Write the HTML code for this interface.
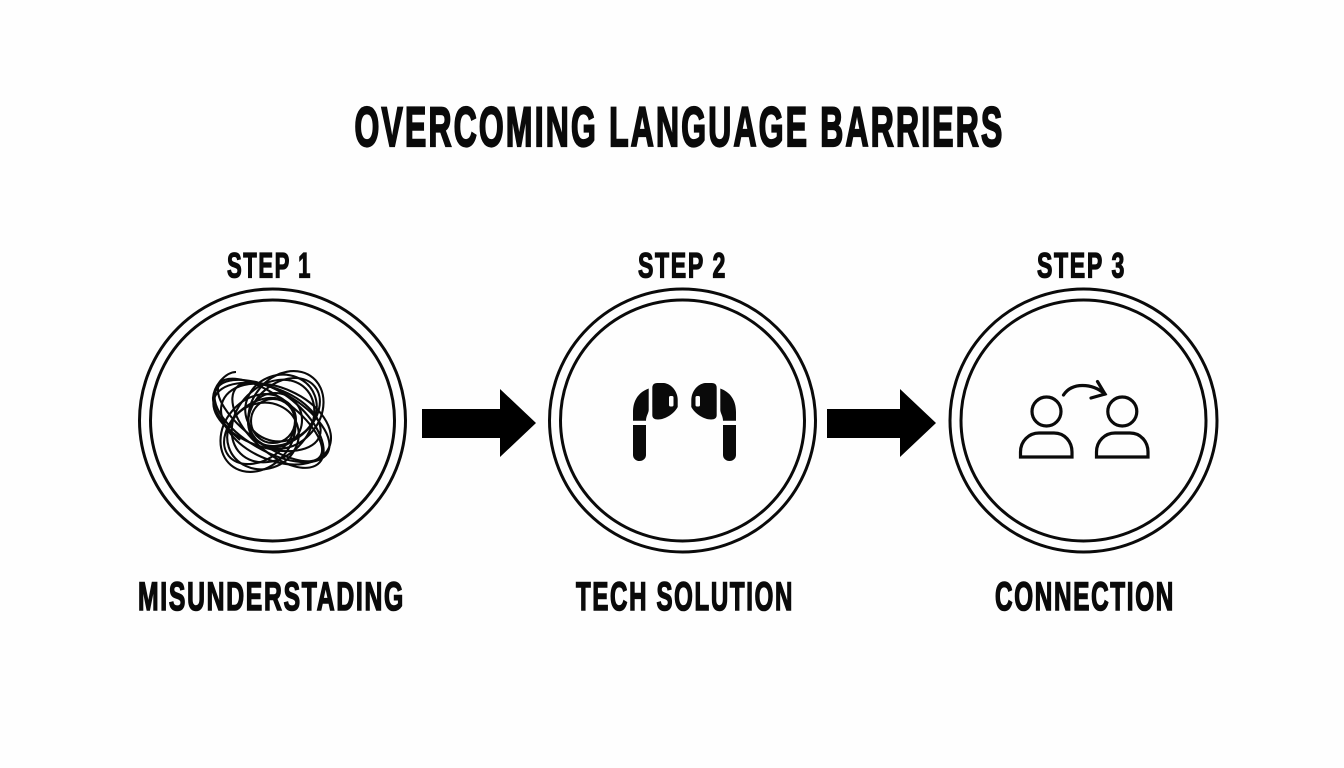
<!DOCTYPE html>
<html><head><meta charset="utf-8"><style>
html,body{margin:0;padding:0;background:#fefefe;width:1344px;height:768px;overflow:hidden}
svg{display:block}
text{font-family:"Liberation Sans",sans-serif;font-weight:bold;fill:#0a0a0a;stroke:#0a0a0a;letter-spacing:.07em}
</style></head><body>
<svg width="1344" height="768" viewBox="0 0 1344 768" xmlns="http://www.w3.org/2000/svg">
<rect width="1344" height="768" fill="#fefefe"/>
<text x="354.5" y="146" font-size="56" stroke-width="2.2" textLength="650" lengthAdjust="spacingAndGlyphs">OVERCOMING LANGUAGE BARRIERS</text>
<text x="227" y="277.5" font-size="35" stroke-width="1.3" textLength="85" lengthAdjust="spacingAndGlyphs">STEP 1</text>
<text x="638" y="277.5" font-size="35" stroke-width="1.3" textLength="89" lengthAdjust="spacingAndGlyphs">STEP 2</text>
<text x="1037" y="277.5" font-size="35" stroke-width="1.3" textLength="89" lengthAdjust="spacingAndGlyphs">STEP 3</text>
<text x="138" y="610" font-size="40" stroke-width="1.6" textLength="267" lengthAdjust="spacingAndGlyphs">MISUNDERSTADING</text>
<text x="576" y="610" font-size="40" stroke-width="1.6" textLength="218" lengthAdjust="spacingAndGlyphs">TECH SOLUTION</text>
<text x="995" y="610" font-size="40" stroke-width="1.6" textLength="180" lengthAdjust="spacingAndGlyphs">CONNECTION</text>

<g fill="none" stroke="#0a0a0a" stroke-width="3">
<ellipse cx="272.5" cy="420.5" rx="133" ry="131.5"/><ellipse cx="272.5" cy="420.5" rx="122" ry="120.5"/>
<ellipse cx="682.5" cy="420.5" rx="133" ry="131.5"/><ellipse cx="682.5" cy="420.5" rx="122" ry="120.5"/>
<ellipse cx="1083.5" cy="420.5" rx="133.5" ry="131.5"/><ellipse cx="1083.5" cy="420.5" rx="122.5" ry="120.5"/>
</g>

<path d="M422 409H500V389L536 423L500 457V438H422Z" fill="#000"/>
<path d="M827 409H900V389L936 423L900 457V438H827Z" fill="#000"/>

<g fill="none" stroke="#0a0a0a" stroke-width="2.1">
<ellipse cx="272" cy="421" rx="64" ry="30" transform="rotate(30 272 421)"/>
<ellipse cx="270" cy="420" rx="62" ry="24" transform="rotate(36 270 420)"/>
<ellipse cx="276" cy="424" rx="58" ry="36" transform="rotate(24 276 424)"/>
<ellipse cx="267" cy="417" rx="56" ry="30" transform="rotate(20 267 417)"/>
<ellipse cx="278" cy="425" rx="56" ry="28" transform="rotate(42 278 425)"/>
<ellipse cx="286" cy="410" rx="42" ry="34" transform="rotate(-50 286 410)"/>
<ellipse cx="284" cy="412" rx="40" ry="29" transform="rotate(-40 284 412)"/>
<ellipse cx="281" cy="408" rx="36" ry="33" transform="rotate(-20 281 408)"/>
<ellipse cx="258" cy="433" rx="42" ry="34" transform="rotate(-50 258 433)"/>
<ellipse cx="260" cy="431" rx="40" ry="28" transform="rotate(-38 260 431)"/>
<ellipse cx="263" cy="436" rx="36" ry="33" transform="rotate(-18 263 436)"/>
<ellipse cx="273" cy="421" rx="46" ry="36" transform="rotate(-45 273 421)"/>
<circle cx="273" cy="421" r="22"/>
<circle cx="275" cy="420" r="27"/>
<path d="M236 372C226 372 214 385 213 398C213 410 224 426 240 440"/>
</g>

<g fill="#0a0a0a">
<path d="M648.7 388.5C639 392 633 400 633 412V420.7H646C646 416 648.7 413 648.7 410Z"/>
<path d="M633 425H646V455A6.5 6 0 0 1 633 455Z"/>
<path d="M652.3 388Q652.3 383 657 383H664C672 384 677.7 392 677.7 400V407C674 414 665 419.5 658 419.5Q652.3 419.5 652.3 415Z"/>
<path d="M720.3 388.5C730 392 736 400 736 412V420.7H723C723 416 720.3 413 720.3 410Z"/>
<path d="M736 425H723V455A6.5 6 0 0 0 736 455Z"/>
<path d="M716.7 388Q716.7 383 712 383H705C697 384 691.3 392 691.3 400V407C695 414 704 419.5 711 419.5Q716.7 419.5 716.7 415Z"/>
</g>
<rect x="669" y="396" width="4.5" height="10.5" rx="1.5" fill="#fefefe"/>
<rect x="695.5" y="396" width="4.5" height="10.5" rx="1.5" fill="#fefefe"/>

<g fill="none" stroke="#0a0a0a" stroke-width="3.2">
<circle cx="1046.5" cy="411.5" r="14.5"/>
<circle cx="1122.3" cy="411.5" r="14.5"/>
<path d="M1020.5 457V452C1020.5 441 1029 433 1039 433H1054C1065 433 1072 442 1072 452V457Z"/>
<path d="M1096.5 457V452C1096.5 441 1105 433 1115 433H1130C1141 433 1148 442 1148 452V457Z"/>
<path d="M1063.5 395C1072 382 1092 383 1105 394" stroke-linecap="round"/>
<path d="M1097.5 381.5L1105 394L1091 398" stroke-linecap="round"/>
</g>
</svg>
</body></html>
